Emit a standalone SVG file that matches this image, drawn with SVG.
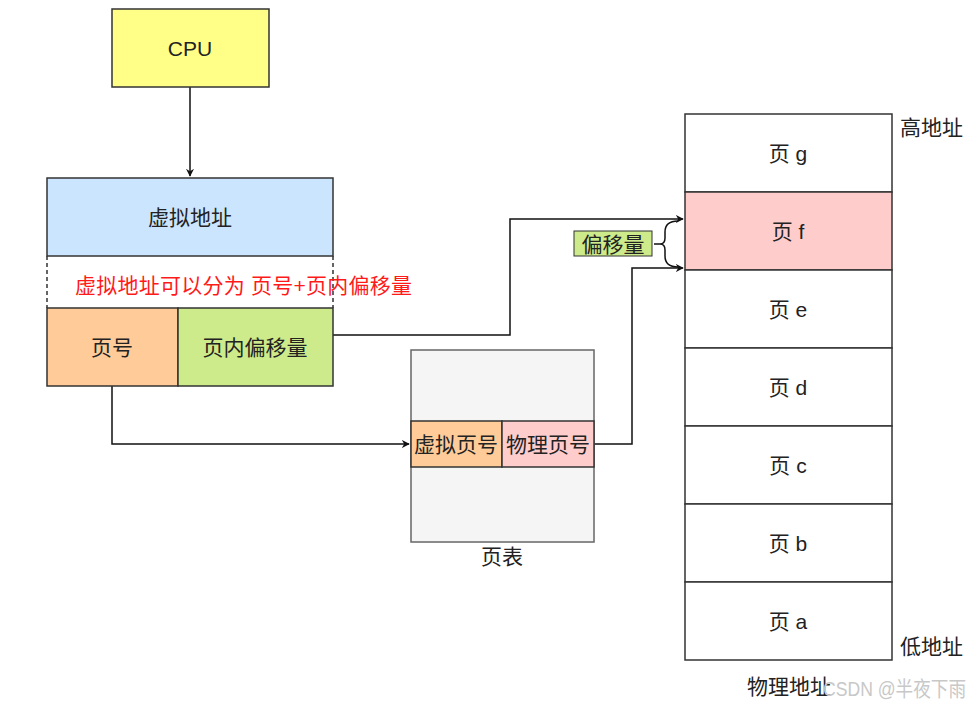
<svg xmlns="http://www.w3.org/2000/svg" width="972" height="707" viewBox="0 0 972 707">
<defs>
<style>
text{font-family:"Liberation Sans","Noto Sans CJK SC",sans-serif;fill:#222;font-size:21px}
.c{text-anchor:middle;dominant-baseline:central}
.box{stroke:#333;stroke-width:1.5}
.line{fill:none;stroke:#111;stroke-width:1.5}
</style>
<marker id="ah" viewBox="0 0 10 10" refX="9" refY="5" markerWidth="8" markerHeight="8" markerUnits="userSpaceOnUse" orient="auto">
<path d="M0,0 L10,5 L0,10 L3,5 Z" fill="#111"/>
</marker>
</defs>
<rect width="972" height="707" fill="#fff"/>

<g id="connectors">
<path class="line" d="M190,87 V176" marker-end="url(#ah)"/>
<path class="line" d="M112,386 V444 H409" marker-end="url(#ah)"/>
<path class="line" d="M333,335 H510 V219 H683" marker-end="url(#ah)"/>
<path class="line" d="M594,444 H632 V268 H683" marker-end="url(#ah)"/>
<path class="line" d="M654,244 H660 M678,221 Q665,221 665,232 V238 Q665,244 660,244 Q665,244 665,250 V256 Q665,267 678,267"/>
</g>

<g id="cpu"><rect class="box" x="112" y="9" width="157" height="78" fill="#ffff88"/><text class="c" x="190" y="48" font-size="19">CPU</text></g>

<g id="vaddr"><rect class="box" x="47" y="178" width="286" height="78" fill="#cce5ff"/><text class="c" x="190" y="217">虚拟地址</text></g>
<g id="split">
<path d="M47,256 V308 M333,256 V308" stroke="#333" stroke-width="1.5" stroke-dasharray="4,3" fill="none"/>
<text x="75" y="293" font-size="21.3" textLength="337" lengthAdjust="spacing" style="fill:#ff1a1a">虚拟地址可以分为 页号+页内偏移量</text>
</g>
<g id="pagenum"><rect class="box" x="47" y="308" width="131" height="78" fill="#ffcc99"/><text class="c" x="112" y="347">页号</text></g>
<g id="offset"><rect class="box" x="178" y="308" width="155" height="78" fill="#cdeb8b"/><text class="c" x="255" y="347">页内偏移量</text></g>

<g id="pagetable"><rect x="411" y="350" width="183" height="192" fill="#f5f5f5" stroke="#666" stroke-width="1.5"/><text class="c" x="502" y="556">页表</text></g>
<g id="vpn"><rect class="box" x="411" y="421" width="91" height="46" fill="#ffcc99"/><text class="c" x="456" y="444">虚拟页号</text></g>
<g id="ppn"><rect class="box" x="502" y="421" width="92" height="46" fill="#ffcccc"/><text class="c" x="548" y="444">物理页号</text></g>

<g id="offlabel"><rect x="574" y="231" width="78" height="25" fill="#cdeb8b" stroke="#333" stroke-width="1"/><text class="c" x="613" y="244" font-size="20">偏移量</text></g>

<g id="pg"><rect class="box" x="685" y="114" width="207" height="78" fill="#fff"/><text class="c" x="788" y="153">页 g</text></g>
<g id="pf"><rect class="box" x="685" y="192" width="207" height="78" fill="#ffcccc"/><text class="c" x="788" y="231">页 f</text></g>
<g id="pe"><rect class="box" x="685" y="270" width="207" height="78" fill="#fff"/><text class="c" x="788" y="309">页 e</text></g>
<g id="pd"><rect class="box" x="685" y="348" width="207" height="78" fill="#fff"/><text class="c" x="788" y="387">页 d</text></g>
<g id="pc"><rect class="box" x="685" y="426" width="207" height="78" fill="#fff"/><text class="c" x="788" y="465">页 c</text></g>
<g id="pb"><rect class="box" x="685" y="504" width="207" height="78" fill="#fff"/><text class="c" x="788" y="543">页 b</text></g>
<g id="pa"><rect class="box" x="685" y="582" width="207" height="78" fill="#fff"/><text class="c" x="788" y="621">页 a</text></g>

<g id="labels">
<text x="900" y="135" font-size="20">高地址</text>
<text x="900" y="654" font-size="20">低地址</text>
<text x="747" y="694" font-size="20">物理地址</text>
<text x="823" y="696" font-size="15.5" textLength="143" lengthAdjust="spacingAndGlyphs" style="fill:#c8c8c8">CSDN @半夜下雨</text>
</g>
</svg>
